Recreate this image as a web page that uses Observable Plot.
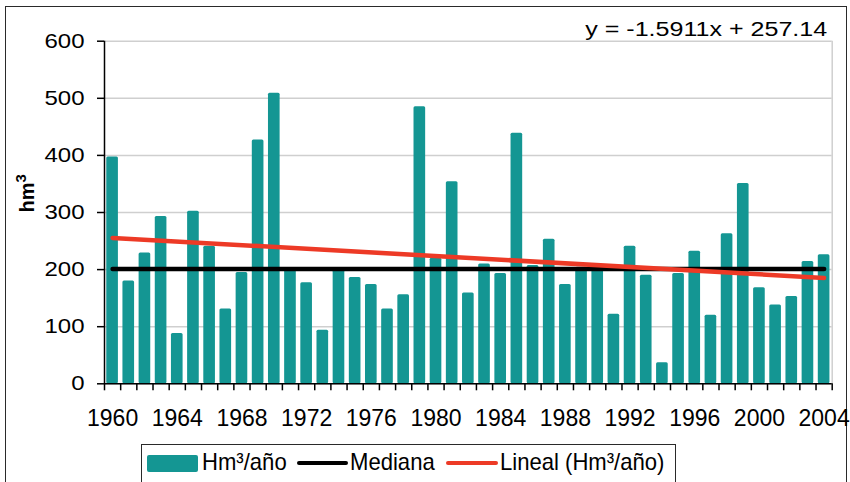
<!DOCTYPE html>
<html><head><meta charset="utf-8">
<script src="https://cdn.jsdelivr.net/npm/d3@7"></script>
<script src="https://cdn.jsdelivr.net/npm/@observablehq/plot@0.6"></script>
<style>
html,body{margin:0;padding:0;background:#fff;}
#wrap{position:relative;width:850px;height:482px;overflow:hidden;background:#fff;font-family:"Liberation Sans",Arial,sans-serif;}
#frame{position:absolute;left:5px;top:6px;width:842px;height:540px;border:1.5px solid #2a2a2a;box-sizing:border-box;}
#chart{position:absolute;left:0;top:0;}
#legend{position:absolute;left:141px;top:444px;width:535px;height:60px;border:1.5px solid #2a2a2a;box-sizing:border-box;background:#fff;}
.sw,.ln,.lt{position:absolute;}
.lt{font-size:24px;line-height:24px;white-space:nowrap;transform-origin:0 0;transform:scaleX(0.92);color:#000;}
</style>
</head><body>
<div id="wrap">
  <div id="frame"></div>
  <div id="chart"></div>
  <div id="legend"></div>
</div>
<script>
const years = [1960,1961,1962,1963,1964,1965,1966,1967,1968,1969,
               1970,1971,1972,1973,1974,1975,1976,1977,1978,1979,
               1980,1981,1982,1983,1984,1985,1986,1987,1988,1989,
               1990,1991,1992,1993,1994,1995,1996,1997,1998,1999,
               2000,2001,2002,2003,2004];
const values = [397,180,229,293,88,302,241,131,195,427,
                509,201,177,94,199,186,174,131,156,485,
                220,354,159,210,193,439,207,253,174,204,
                201,122,241,190,37,193,232,120,263,351,
                168,138,153,214,226];
const labelYears = [1960,1964,1968,1972,1976,1980,1984,1988,1992,1996,2000,2004];
const yTicks = [0,100,200,300,400,500,600];
const medianValue = 201;
const trendYears = [1960, 2004];
const trendValues = [255.5, 185.5];
const equationText = "y = -1.5911x + 257.14";
const axisTitleBase = "hm";
const axisTitleSup = "3";
const legendLabels = ["Hm³/año", "Mediana", "Lineal (Hm³/año)"];

const TEAL = "#149693", RED = "#ED3A26";

const data = years.map((year, i) => ({year, value: values[i]}));
const medianLine = [years[0], years[years.length - 1]].map(year => ({year, v: medianValue}));
const trend = trendYears.map((year, i) => ({year, v: trendValues[i]}));
const boundaries = years.map(y => y - 0.5).concat([years[years.length - 1] + 0.5]);
const xDomain = [years[0] - 0.5, years[years.length - 1] + 0.5];

const chart = Plot.plot({
  width: 850, height: 440,
  marginLeft: 104, marginRight: 18.3, marginTop: 40.7, marginBottom: 56.7,
  x: {domain: xDomain},
  y: {domain: [0, 600]},
  style: {fontFamily: '"Liberation Sans", Arial, sans-serif', fontSize: "20px", color: "#000", background: "transparent", overflow: "visible"},
  marks: [
    Plot.gridY({ticks: yTicks, stroke: "#cfcfcf", strokeOpacity: 1, strokeWidth: 1.5}),
    Plot.ruleX([xDomain[1]], {y1: 0, y2: 600, stroke: "#cfcfcf", strokeWidth: 1.5}),
    Plot.rectY(data, {x1: d => d.year - 0.36, x2: d => d.year + 0.36, y1: 0, y2: "value", fill: TEAL, rx: 1.5}),
    Plot.line(medianLine, {x: "year", y: "v", stroke: "#000", strokeWidth: 4.5, strokeLinecap: "round"}),
    Plot.line(trend, {x: "year", y: "v", stroke: RED, strokeWidth: 4.5, strokeLinecap: "round"}),
    Plot.ruleY([0], {stroke: "#000", strokeWidth: 1.5}),
    Plot.ruleX([xDomain[0]], {y1: 0, y2: 600, stroke: "#000", strokeWidth: 1.5}),
    Plot.axisY({ticks: yTicks, tickSize: 7, tickPadding: 13, fontSize: 20, label: null, strokeWidth: 1.5}),
    Plot.axisX({ticks: boundaries, tickSize: 7, tickFormat: () => "", label: null, strokeWidth: 1.5}),
    Plot.axisX({ticks: labelYears, tickSize: 0, tickPadding: 26, tickFormat: d => String(d), fontSize: 23, label: null}),
    Plot.text([equationText], {text: d => d, frameAnchor: "top-right", textAnchor: "end", lineAnchor: "top", dx: -5, dy: -19, fontSize: 20}),
    Plot.text([axisTitleBase + axisTitleSup], {text: d => d, frameAnchor: "left", rotate: -90, lineAnchor: "middle", dx: -77.4, fontSize: 20, fontWeight: "bold"})
  ]
});
document.getElementById("chart").appendChild(chart);

const svg = d3.select(chart);
// horizontal stretch of the y tick labels (around their right anchor)
svg.selectAll('g[aria-label="y-axis tick label"] text').each(function() {
  const xa = this.getAttribute("x");
  const x = xa !== null && /^-?[\d.]+$/.test(xa) ? +xa : 0;
  const t = this.getAttribute("transform") || "";
  this.setAttribute("transform", `${t} translate(${x},0) scale(1.2,1) translate(${-x},0)`);
});
svg.selectAll("text").each(function() {
  const s = this.textContent;
  if (s === equationText) {
    this.setAttribute("textLength", 242);
    this.setAttribute("lengthAdjust", "spacingAndGlyphs");
  } else if (s === axisTitleBase + axisTitleSup) {
    this.textContent = axisTitleBase;
    d3.select(this).append("tspan").attr("dy", "-0.5em").attr("font-size", "15px").text(axisTitleSup);
  }
});

// legend
const lg = d3.select("#legend");
lg.append("div").attr("class", "sw").style("left", "4.5px").style("top", "9.5px")
  .style("width", "51px").style("height", "17px").style("background", TEAL).style("border-radius", "2px");
lg.append("div").attr("class", "lt").style("left", "59.5px").style("top", "5.2px").text(legendLabels[0]);
lg.append("div").attr("class", "ln").style("left", "154.5px").style("top", "15.5px")
  .style("width", "51px").style("height", "4.5px").style("background", "#000").style("border-radius", "2px");
lg.append("div").attr("class", "lt").style("left", "207.5px").style("top", "5.2px").text(legendLabels[1]);
lg.append("div").attr("class", "ln").style("left", "303.5px").style("top", "15.5px")
  .style("width", "52px").style("height", "4.5px").style("background", RED).style("border-radius", "2px");
lg.append("div").attr("class", "lt").style("left", "357.5px").style("top", "5.2px").text(legendLabels[2]);
</script>
</body></html>
